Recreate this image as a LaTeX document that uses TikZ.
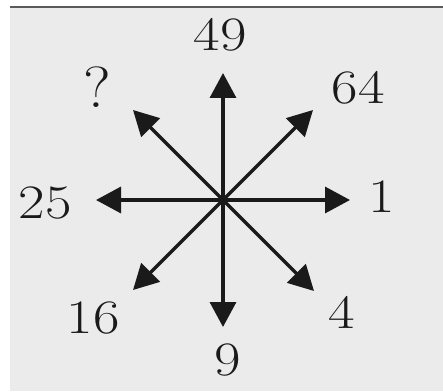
\documentclass[tikz,border=0pt]{standalone}
\usetikzlibrary{arrows.meta}
\definecolor{bgc}{HTML}{EBEBEB}
\definecolor{topline}{HTML}{5A5A5A}
\definecolor{ink}{HTML}{1A1A1A}
\tikzset{
  ray/.style={draw=ink, line width=3.4pt, -{Triangle[length=25pt,width=26pt]}},
  lbl/.style={inner sep=0pt, text=ink, font=\fontsize{48}{48}\selectfont}
}
\newcommand{\widetxt}[1]{\scalebox{1.2}[1]{#1}}
\begin{document}
\begin{tikzpicture}[x=1pt,y=1pt]
\useasboundingbox (0,0) rectangle (443,391);
\fill[bgc] (10,0) rectangle (443,384);
\draw[topline, line width=1.3pt] (10,384) -- (443,384);
\coordinate (c) at (223,191);
\coordinate (tN) at (223,318);
\coordinate (tS) at (223,64);
\coordinate (tE) at (350,191);
\coordinate (tW) at (96,191);
\coordinate (tNE) at (313,281);
\coordinate (tNW) at (133,281);
\coordinate (tSE) at (314,100);
\coordinate (tSW) at (133,101);
\foreach \t in {tN,tS,tE,tW,tNE,tNW,tSE,tSW} \draw[ray] (c) -- (\t);
\node[lbl] (n49) at (220,356) {\widetxt{49}};
\node[lbl] (n64) at (358,303) {\widetxt{64}};
\node[lbl, font=\fontsize{58}{58}\selectfont] (nq) at (97,304) {\scalebox{1.1}[1]{?}};
\node[lbl] (n25) at (45,188) {\widetxt{25}};
\node[lbl] (n1) at (382,194) {\widetxt{1}};
\node[lbl] (n16) at (93,73) {\widetxt{16}};
\node[lbl] (n9) at (228,31) {\widetxt{9}};
\node[lbl] (n4) at (342,79) {\widetxt{4}};
\end{tikzpicture}
\end{document}
